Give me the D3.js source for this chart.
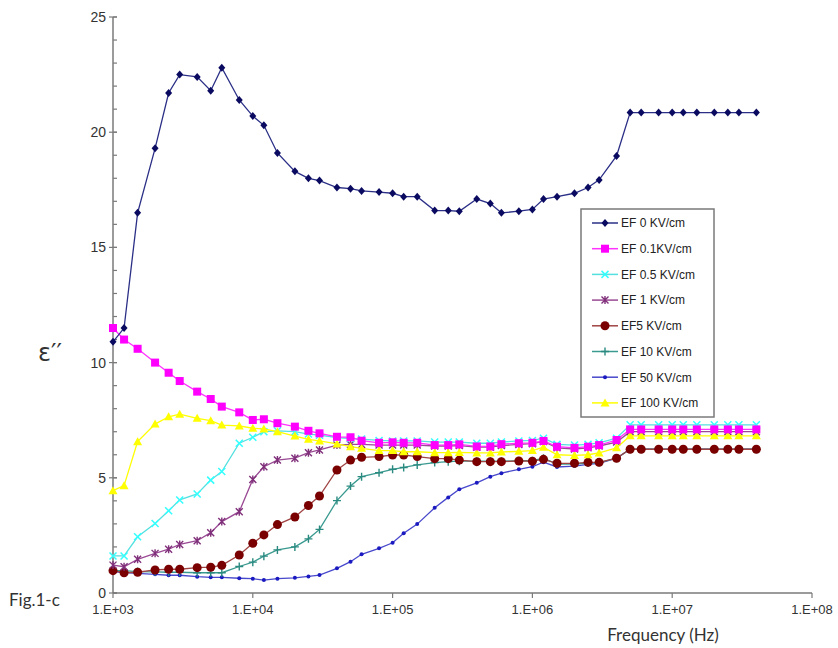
<!DOCTYPE html>
<html><head><meta charset="utf-8">
<script src="https://cdn.jsdelivr.net/npm/d3@7/dist/d3.min.js"></script>
<style>body{margin:0;background:#fff}svg{display:block}</style>
</head><body><svg id="c" width="838" height="648"></svg>
<script>
const freqs = [1e3,1.2e3,1.5e3,2e3,2.5e3,3e3,4e3,5e3,6e3,8e3,
  1e4,1.2e4,1.5e4,2e4,2.5e4,3e4,4e4,5e4,6e4,8e4,
  1e5,1.2e5,1.5e5,2e5,2.5e5,3e5,4e5,5e5,6e5,8e5,
  1e6,1.2e6,1.5e6,2e6,2.5e6,3e6,4e6,5e6,6e6,8e6,
  1e7,1.2e7,1.5e7,2e7,2.5e7,3e7,4e7];
const ef0 = [10.9,11.5,16.5,19.3,21.7,22.5,22.4,21.8,22.8,21.4,
  20.7,20.3,19.1,18.3,18.0,17.9,17.6,17.55,17.45,17.4,
  17.35,17.2,17.2,16.6,16.6,16.57,17.1,16.9,16.5,16.57,
  16.65,17.1,17.2,17.35,17.6,17.93,18.97,20.85,20.85,20.85,
  20.85,20.85,20.85,20.85,20.85,20.85,20.85];
const ef01 = [11.5,11.0,10.6,10.0,9.56,9.2,8.74,8.42,8.09,7.84,
  7.51,7.54,7.37,7.22,7.04,6.93,6.78,6.76,6.61,6.52,
  6.54,6.52,6.52,6.42,6.42,6.45,6.36,6.36,6.46,6.5,
  6.52,6.6,6.35,6.3,6.35,6.42,6.64,7.1,7.1,7.1,
  7.1,7.1,7.1,7.1,7.1,7.1,7.1];
const ef05 = [1.61,1.61,2.44,3.02,3.57,4.04,4.30,4.90,5.27,6.50,
  6.76,7.0,7.04,7.0,6.9,6.85,6.75,6.7,6.68,6.62,
  6.6,6.6,6.6,6.55,6.55,6.55,6.5,6.5,6.55,6.6,
  6.62,6.72,6.45,6.42,6.45,6.52,6.72,7.3,7.3,7.3,
  7.3,7.3,7.3,7.3,7.3,7.3,7.3];
const ef1 = [1.21,1.14,1.46,1.72,1.90,2.11,2.27,2.62,3.1,3.53,
  4.93,5.48,5.77,5.85,6.09,6.21,6.42,6.45,6.45,6.42,
  6.42,6.42,6.42,6.38,6.38,6.4,6.33,6.33,6.4,6.45,
  6.48,6.58,6.3,6.25,6.3,6.38,6.55,7.0,7.0,7.0,
  7.0,7.0,7.0,7.0,7.0,7.0,7.0];
const ef5 = [0.97,0.88,0.90,1.0,1.03,1.03,1.1,1.12,1.2,1.65,
  2.16,2.52,2.97,3.3,3.8,4.21,5.34,5.77,5.89,5.92,
  5.99,5.99,5.92,5.83,5.83,5.77,5.70,5.70,5.70,5.73,
  5.72,5.8,5.63,5.63,5.67,5.67,5.85,6.24,6.24,6.24,
  6.24,6.24,6.24,6.24,6.24,6.24,6.24];
const ef10 = [0.97,0.97,0.93,0.92,0.9,0.9,0.88,0.88,0.88,1.15,
  1.34,1.6,1.87,2.0,2.35,2.76,4.01,4.64,5.05,5.22,
  5.37,5.45,5.56,5.66,5.7,5.72,5.72,5.72,5.72,5.74,
  5.74,5.85,5.6,5.6,5.64,5.66,5.85,6.24,6.24,6.24,
  6.24,6.24,6.24,6.24,6.24,6.24,6.24];
const ef50 = [0.93,0.88,0.85,0.81,0.77,0.77,0.71,0.68,0.68,0.64,
  0.62,0.56,0.62,0.66,0.72,0.78,1.07,1.36,1.68,1.94,
  2.18,2.59,2.99,3.7,4.15,4.5,4.78,5.05,5.2,5.37,
  5.48,5.68,5.47,5.51,5.58,5.63,5.85,6.24,6.24,6.24,
  6.24,6.24,6.24,6.24,6.24,6.24,6.24];
const ef100 = [4.44,4.66,6.57,7.33,7.65,7.76,7.58,7.48,7.29,7.25,
  7.15,7.12,7.0,6.81,6.67,6.6,6.47,6.35,6.28,6.18,
  6.18,6.13,6.13,6.09,6.09,6.1,6.08,6.08,6.12,6.15,
  6.18,6.33,6.0,5.97,6.0,6.08,6.3,6.82,6.82,6.82,
  6.82,6.82,6.82,6.82,6.82,6.82,6.82];
const seriesNames = ["EF 0 KV/cm","EF 0.1KV/cm","EF 0.5 KV/cm","EF 1 KV/cm","EF5 KV/cm","EF 10 KV/cm","EF 50 KV/cm","EF 100 KV/cm"];
const xTicks = [1e3,1e4,1e5,1e6,1e7,1e8];
const xTickLabels = ["1.E+03","1.E+04","1.E+05","1.E+06","1.E+07","1.E+08"];
const yTicks = [0,5,10,15,20,25];

const styles = [
  {line:"#2b2f86", fill:"#0a0a60", m:"diamond"},
  {line:"#ff33ff", fill:"#ff00ff", m:"square"},
  {line:"#55e0e0", fill:"#33ffff", m:"x"},
  {line:"#9a4a94", fill:"#80307a", m:"star"},
  {line:"#a04444", fill:"#7a0000", m:"circle"},
  {line:"#3a9a90", fill:"#2a8a80", m:"plus"},
  {line:"#4848cc", fill:"#1a1ac0", m:"dot"},
  {line:"#ffff00", fill:"#ffff00", m:"triangle"}
];
const allSeries = [ef0,ef01,ef05,ef1,ef5,ef10,ef50,ef100];

const svg = d3.select("#c");
const x = d3.scaleLog().domain([1e3,1e8]).range([113,812]);
const y = d3.scaleLinear().domain([0,25]).range([593,17]);
const axisCol = "#7a7a7a";

// Y axis
const gy = svg.append("g");
gy.append("line").attr("x1",113).attr("x2",113).attr("y1",y(0)).attr("y2",y(25)).attr("stroke",axisCol).attr("stroke-width",1.5);
gy.selectAll("line.minor").data(d3.range(0,26)).join("line").attr("class","minor")
  .attr("x1",113).attr("x2",117).attr("y1",d=>y(d)).attr("y2",d=>y(d)).attr("stroke",axisCol).attr("stroke-width",1.2);
gy.selectAll("line.major").data(yTicks).join("line").attr("class","major")
  .attr("x1",109).attr("x2",117).attr("y1",d=>y(d)).attr("y2",d=>y(d)).attr("stroke",axisCol).attr("stroke-width",1.2);
gy.selectAll("text").data(yTicks).join("text")
  .attr("x",106).attr("y",d=>y(d)).attr("dy","0.36em").attr("text-anchor","end")
  .attr("font-family","Liberation Sans, Arial, sans-serif").attr("font-size",14).attr("fill","#333").text(d=>d);

// X axis
const gx = svg.append("g");
gx.append("line").attr("x1",113).attr("x2",812).attr("y1",593).attr("y2",593).attr("stroke",axisCol).attr("stroke-width",1.5);
gx.selectAll("line.t").data(xTicks).join("line").attr("class","t")
  .attr("x1",d=>x(d)).attr("x2",d=>x(d)).attr("y1",593).attr("y2",598).attr("stroke",axisCol).attr("stroke-width",1.2);
gx.selectAll("text").data(xTicks).join("text")
  .attr("x",d=>x(d)).attr("y",614).attr("text-anchor","middle")
  .attr("font-family","Liberation Sans, Arial, sans-serif").attr("font-size",13).attr("fill","#333")
  .text((d,i)=>xTickLabels[i]);

svg.append("text").attr("x",663).attr("y",641).attr("text-anchor","middle")
  .attr("font-family","Lato, sans-serif").attr("font-size",17).attr("fill","#333").text("Frequency (Hz)");
svg.append("text").attr("x",9).attr("y",606)
  .attr("font-family","Lato, sans-serif").attr("font-size",17).attr("fill","#333").text("Fig.1-c");
svg.append("text").attr("x",38).attr("y",361)
  .attr("font-family","DejaVu Sans, sans-serif").attr("font-size",24).attr("fill","#333").text("ε′′");

function marker(g, type, cx, cy, st){
  if(type==="diamond") g.append("path").attr("d",`M${cx},${cy-4}L${cx+3.5},${cy}L${cx},${cy+4}L${cx-3.5},${cy}Z`).attr("fill",st.fill);
  else if(type==="square") g.append("rect").attr("x",cx-4).attr("y",cy-4).attr("width",8).attr("height",8).attr("fill",st.fill);
  else if(type==="x") g.append("path").attr("d",`M${cx-3.5},${cy-3.5}L${cx+3.5},${cy+3.5}M${cx-3.5},${cy+3.5}L${cx+3.5},${cy-3.5}`).attr("stroke",st.fill).attr("stroke-width",1.5);
  else if(type==="star") g.append("path").attr("d",`M${cx-3.5},${cy-3.5}L${cx+3.5},${cy+3.5}M${cx-3.5},${cy+3.5}L${cx+3.5},${cy-3.5}M${cx},${cy-4}L${cx},${cy+4}`).attr("stroke",st.fill).attr("stroke-width",1.4);
  else if(type==="circle") g.append("circle").attr("cx",cx).attr("cy",cy).attr("r",4.5).attr("fill",st.fill);
  else if(type==="plus") g.append("path").attr("d",`M${cx-4},${cy}L${cx+4},${cy}M${cx},${cy-4}L${cx},${cy+4}`).attr("stroke",st.fill).attr("stroke-width",1.4);
  else if(type==="dot") g.append("circle").attr("cx",cx).attr("cy",cy).attr("r",2).attr("fill",st.fill);
  else if(type==="triangle") g.append("path").attr("d",`M${cx},${cy-4.5}L${cx+4.5},${cy+3.5}L${cx-4.5},${cy+3.5}Z`).attr("fill",st.fill);
}

const line = d3.line().x(d=>x(d[0])).y(d=>y(d[1]));
const order = [6,5,4,3,2,7,1,0];
order.forEach(i=>{
  const data = freqs.map((f,k)=>[f,allSeries[i][k]]);
  const g = svg.append("g");
  g.append("path").attr("d",line(data)).attr("fill","none").attr("stroke",styles[i].line).attr("stroke-width",1.3);
  data.forEach(d=>marker(g, styles[i].m, x(d[0]), y(d[1]), styles[i]));
});

// Legend
const lg = svg.append("g");
lg.append("rect").attr("x",581).attr("y",209).attr("width",133).attr("height",208)
  .attr("fill","#fff").attr("stroke","#7a7a7a").attr("stroke-width",1.5);
seriesNames.forEach((n,i)=>{
  const ly = 223 + i*25.7;
  lg.append("line").attr("x1",592).attr("x2",618).attr("y1",ly).attr("y2",ly).attr("stroke",styles[i].line).attr("stroke-width",1.5);
  marker(lg, styles[i].m, 605, ly, styles[i]);
  lg.append("text").attr("x",621).attr("y",ly).attr("dy","0.36em")
    .attr("font-family","Liberation Sans, Arial, sans-serif").attr("font-size",12).attr("fill","#222").text(n);
});
</script></body></html>
